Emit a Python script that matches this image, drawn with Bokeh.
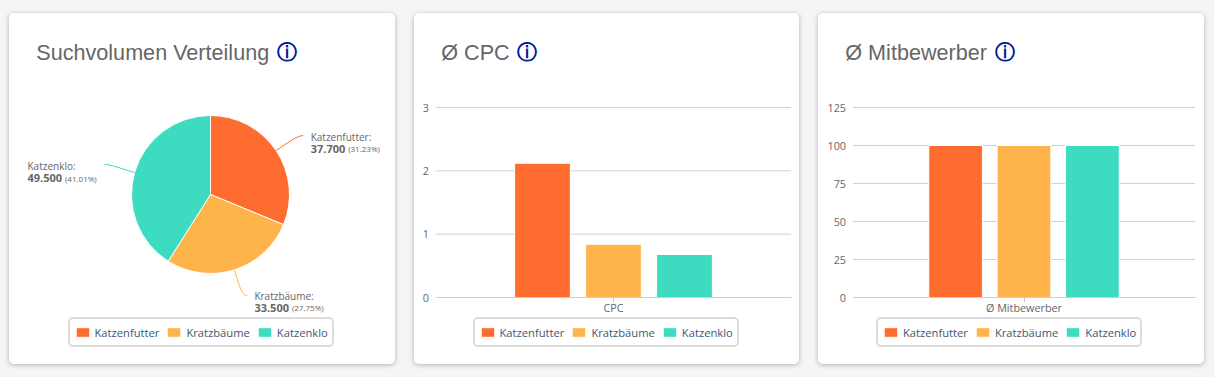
import math
from bokeh.embed import file_html
from bokeh.resources import INLINE
from bokeh.layouts import row
from bokeh.models import ColumnDataSource, Label, Legend, LegendItem, Range1d, NumeralTickFormatter
from bokeh.plotting import figure
from bokeh.core.properties import value

series = ["Katzenfutter", "Kratzbäume", "Katzenklo"]
colors = ["#FF6C2F", "#FFB44B", "#3DDBC0"]
volume = [37700, 33500, 49500]
cpc = [2.12, 0.84, 0.68]
competitors = [100, 100, 100]
cpc_ticks = [0, 1, 2, 3]
competitor_ticks = [0, 25, 50, 75, 100, 125]

FONT = "Open Sans"
H = 351
CARD = {"background": "#ffffff", "border-radius": "5px", "box-shadow": "0 1px 5px rgba(0,0,0,0.28)"}


def base(width, x_range, y_range, title, icon_x, margin_left):
    p = figure(width=width, height=H, x_range=x_range, y_range=y_range, output_backend="svg",
               toolbar_location=None, min_border_left=0, min_border_right=0,
               min_border_top=0, min_border_bottom=0, border_fill_color=None,
               background_fill_color=None, outline_line_color=None, margin=(13, 0, 0, margin_left))
    p.styles = CARD
    p.grid.visible = False
    p.add_layout(Label(x=26.8, y=312, x_units="screen", y_units="screen", text=title,
                       text_font="Liberation Sans", text_font_size="21.6px", text_color="#666666",
                       text_baseline="alphabetic"))
    p.add_layout(Label(x=icon_x, y=312.3, x_units="screen", y_units="screen", text="\u24d8",
                       text_font="DejaVu Sans", text_font_style="bold", text_font_size="20px",
                       text_color="#00189C", text_align="center", text_baseline="middle"))
    return p


def add_legend(p, items, x, y):
    extra = {"border_radius": 5} if "border_radius" in Legend.properties() else {}
    leg = Legend(items=items, orientation="horizontal", location=(x, y), glyph_width=17, glyph_height=12,
                 label_standoff=4, spacing=6, padding=4, margin=0, label_text_font=FONT,
                 label_text_font_size="11.2px", label_text_color="#3E576F", border_line_color="#B8B8B8",
                 border_line_width=2, background_fill_color="#ffffff", background_fill_alpha=1,
                 label_height=18, **extra)
    p.add_layout(leg, "center")


# ---------- pie ----------
total = sum(volume)
p1 = base(386, Range1d(0, 386), Range1d(0, H), "Suchvolumen Verteilung", 277.5, 9)
p1.xaxis.visible = False
p1.yaxis.visible = False
cx, cy, radius = 201, 170, 79
leg_items = []
cum = 0.0
label_layout = [(27, 15, 7.5, -1, 0), (13, -26, 7, 0, 0), (-30, 8, 0, 0, 18)]
for i, (name, val, col) in enumerate(zip(series, volume, colors)):
    frac = val / total
    start = math.pi / 2 - 2 * math.pi * (cum + frac)
    end = math.pi / 2 - 2 * math.pi * cum
    r = p1.wedge(x=[cx], y=[cy], radius=[radius], radius_units="screen", start_angle=[start], end_angle=[end],
                 fill_color=col, line_color="#ffffff", line_width=1)
    leg_items.append(LegendItem(label=name, renderers=[r]))
    mid = cum + frac / 2
    ox = math.sin(2 * math.pi * mid)
    oy = math.cos(2 * math.pi * mid)
    sx = cx + radius * ox
    sy = cy + radius * oy
    dx, dy, tx, ty, lx = label_layout[i]
    ex, ey = sx + dx, sy + dy
    p1.bezier(x0=[sx], y0=[sy], x1=[ex], y1=[ey], cx0=[sx + ox * 14], cy0=[sy + oy * 14],
              cx1=[ex - (6 if dx > 0 else -6)], cy1=[ey], line_color=col, line_width=1)
    if lx:
        x0 = lx
        y0 = ey - 2
    else:
        x0 = ex + tx
        y0 = ey + ty
    p1.text(x=[x0], y=[y0], text=[name + ":"], text_font=value(FONT), text_font_size="10px",
            text_color="#666666", text_baseline="alphabetic")
    p1.text(x=[x0], y=[y0 - 12], text=[f"{val:,}".replace(",", ".")], text_font=value(FONT),
            text_font_size="11px", text_font_style="bold", text_color="#666666", text_baseline="alphabetic")
    p1.text(x=[x0 + 37.5], y=[y0 - 12], text=[f"({frac * 100:.2f}%)"], text_font=value(FONT),
            text_font_size="8px", text_color="#666666", text_baseline="alphabetic")
    cum += frac
add_legend(p1, leg_items, 58.5, 17)


# ---------- bars ----------
def bar_chart(width, left, right, cat, vals, ticks, title, margin_left, icon_x, legend_x):
    band = width - left - right
    top_val = ticks[-1]
    per_px = top_val / 190
    xr = Range1d(-0.5 - left / band, 0.5 + right / band)
    yr = Range1d(-67 * per_px, (H - 67) * per_px)
    p = base(width, xr, yr, title, icon_x, margin_left)
    p.segment(x0=[-0.5] * len(ticks), x1=[0.5] * len(ticks), y0=ticks, y1=ticks,
              line_color="#D0D0D0", line_width=1)
    items = []
    for name, val, col, off in zip(series, vals, colors, (-0.2, 0.0, 0.2)):
        src = ColumnDataSource(dict(x=[off], top=[val]))
        r = p.vbar(x="x", top="top", width=0.157, bottom=0, source=src,
                   fill_color=col, line_color="#ffffff", line_width=1)
        items.append(LegendItem(label=name, renderers=[r]))
    p.yaxis.fixed_location = -0.5
    p.xaxis.fixed_location = 0
    p.xaxis.bounds = (-0.5, 0.5)
    p.yaxis.bounds = (0, top_val)
    p.yaxis.ticker = ticks
    p.xaxis.ticker = [0]
    p.xaxis.major_label_overrides = {0: cat}
    p.yaxis.formatter = NumeralTickFormatter(format="0")
    p.yaxis.axis_line_color = None
    p.yaxis.major_tick_line_color = None
    p.yaxis.minor_tick_line_color = None
    p.yaxis.major_tick_in = 0
    p.yaxis.major_tick_out = 0
    p.yaxis.major_label_standoff = 7
    p.xaxis.axis_line_color = "#C0D0E0"
    p.xaxis.major_tick_line_color = "#C0D0E0"
    p.xaxis.minor_tick_line_color = None
    p.xaxis.major_tick_in = 0
    p.xaxis.major_tick_out = 5
    p.xaxis.major_label_standoff = -3
    for ax in (p.xaxis, p.yaxis):
        ax.major_label_text_font = FONT
        ax.major_label_text_font_size = "10.8px"
        ax.major_label_text_color = "#666666"
    add_legend(p, items, legend_x, 17)
    return p


p2 = bar_chart(385, 21.5, 8.5, "CPC", cpc, cpc_ticks, "Ø CPC", 19, 112.7, 58.5)
p3 = bar_chart(386, 34.5, 9.5, "Ø Mitbewerber", competitors, competitor_ticks, "Ø Mitbewerber", 19, 186.3, 58)

html = file_html(row(p1, p2, p3), INLINE)
html = html.replace("<head>", "<head><style>html,body{background:#F5F5F5;}</style>", 1)
open("out.html", "w").write(html)
